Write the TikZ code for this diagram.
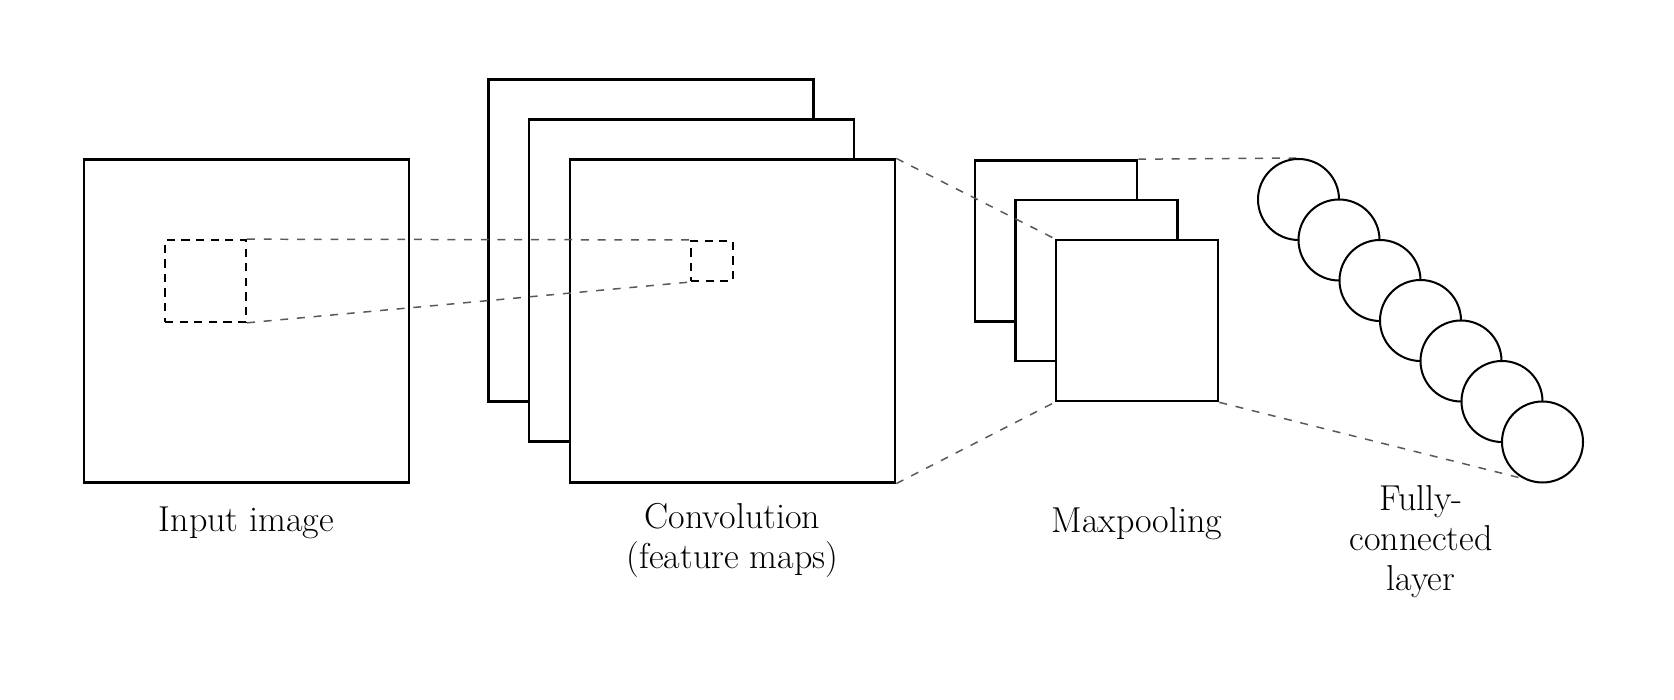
\documentclass[tikz,border=0pt]{standalone}
\usepackage{tikz}

\pgfdeclarelayer{front}
\pgfsetlayers{main,front}

\tikzset{
  fmap/.style={draw, line width=1.5pt, fill=white, minimum width=6.5cm, minimum height=6.45cm, inner sep=0pt},
  pmap/.style={draw, line width=1.5pt, fill=white, minimum width=3.24cm, minimum height=3.22cm, inner sep=0pt},
  win/.style={draw, line width=1.2pt, dash pattern=on 4.7pt off 3.6pt, inner sep=0pt},
  link/.style={draw=black!65, line width=0.85pt, dash pattern=on 4.5pt off 5pt},
  neuron/.style={draw, circle, line width=1.15pt, fill=white, minimum size=1.62cm, inner sep=0pt},
  lbl/.style={font=\fontsize{20.5}{22.8}\selectfont, align=center, anchor=north, inner sep=0pt}
}

\begin{document}
\begin{tikzpicture}
  \useasboundingbox (0,0) rectangle (33.48,14);

  % input image and its window
  \node[fmap] (input) at (4.93,7.58) {};
  \node[win, minimum width=1.62cm, minimum height=1.63cm] (inwin) at (4.11,8.38) {};

  % feature maps, back to front
  \node[fmap] (conv1) at (13.02,9.19) {};
  \node[fmap] (conv2) at (13.83,8.39) {};
  \node[fmap] (conv3) at (14.65,7.58) {};
  \node[win, minimum width=0.84cm, minimum height=0.8cm] (convwin) at (14.24,8.78) {};

  % pooled maps
  \node[pmap] (pool1) at (21.12,9.18) {};
  \node[pmap] (pool2) at (21.93,8.39) {};
  \node[pmap] (pool3) at (22.74,7.59) {};

  % fully-connected units, kept above the dashed lines
  \begin{pgfonlayer}{front}
    \node[neuron] (fc1) at (25.97,10.01) {};
    \node[neuron] (fc2) at (26.78,9.20) {};
    \node[neuron] (fc3) at (27.60,8.39) {};
    \node[neuron] (fc4) at (28.41,7.59) {};
    \node[neuron] (fc5) at (29.22,6.78) {};
    \node[neuron] (fc6) at (30.04,5.97) {};
    \node[neuron] (fc7) at (30.85,5.16) {};
  \end{pgfonlayer}

  \draw[link] (inwin.north east) -- (convwin.north west);
  \draw[link] (inwin.south east) -- (convwin.south west);
  \draw[link] (conv3.north east) -- (pool3.north west);
  \draw[link] (conv3.south east) -- (pool3.south west);
  \draw[link] (pool1.north east) -- (fc1.north);
  \draw[link] (pool3.south east) -- (fc7.south);

  \node[lbl] (lblin) at (4.93,3.86) {Input image};
  \node[lbl] (lblconv) at (14.65,3.94) {Convolution\\(feature maps)};
  \node[lbl] (lblpool) at (22.74,3.86) {Maxpooling};
  \node[lbl] (lblfc) at (28.42,4.30) {Fully-\\connected\\layer};
\end{tikzpicture}
\end{document}
